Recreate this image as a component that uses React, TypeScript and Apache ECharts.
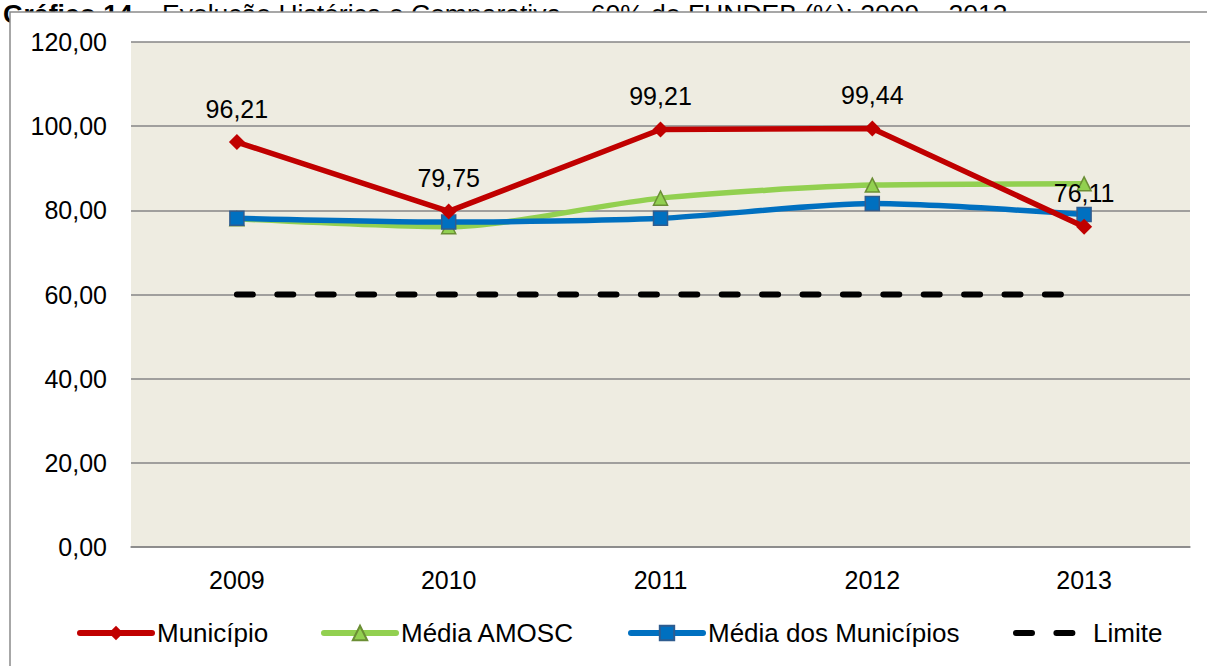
import React, { useEffect, useRef } from "react";
import * as echarts from "echarts";

const categories = ["2009", "2010", "2011", "2012", "2013"];
const municipio = [96.21, 79.75, 99.21, 99.44, 76.11];
const mediaAmosc = [78.0, 76.1, 82.9, 86.0, 86.3];
const mediaMunicipios = [78.1, 77.2, 78.1, 81.6, 79.0];
const limite = [60, 60, 60, 60, 60];
const yMin = 0;
const yMax = 120;
const yInterval = 20;
const titleBold = "Gráfico 14";
const titleRest = " – Evolução Histórica e Comparativa – 60% do FUNDEB (%): 2009 – 2013";
const seriesNames = ["Município", "Média AMOSC", "Média dos Municípios", "Limite"];
const legendLefts = [77, 321, 628, 1013];

const FONT = "'Liberation Sans', Arial, sans-serif";
const fmt = (v: number) => v.toFixed(2).replace(".", ",");

export default function App() {
  const ref = useRef<HTMLDivElement>(null);
  useEffect(() => {
    if (!ref.current) return;
    const chart = echarts.init(ref.current, undefined, { renderer: "svg" });
    const legends = seriesNames.map((name, i) => ({
      left: legendLefts[i],
      top: 620,
      padding: 0,
      itemWidth: 72,
      itemHeight: 18,
      textStyle: { fontSize: 26, fontFamily: FONT, color: "#000" },
      lineStyle: { width: 6, cap: "round" },
      data: [i === 3 ? { name, itemStyle: { opacity: 0 } } : { name }],
    }));
    chart.setOption({
      animation: false,
      backgroundColor: "#ffffff",
      textStyle: { fontFamily: FONT },
      graphic: [
        {
          type: "text",
          z: -20,
          left: 3,
          top: 0,
          style: {
            text: `{b|${titleBold}}${titleRest}`,
            fontFamily: FONT,
            fontSize: 26.5,
            fill: "#000",
            rich: { b: { fontWeight: "bold", fontSize: 26.5, fontFamily: FONT } },
          },
        },
        {
          type: "rect",
          z: -10,
          shape: { x: 10, y: 12, width: 1220, height: 700 },
          style: { fill: "#ffffff", stroke: "#8a8a8a", lineWidth: 1.5 },
        },
      ],
      grid: {
        left: 131,
        right: 17,
        top: 42,
        bottom: 119,
        show: true,
        backgroundColor: "#EEECE1",
        borderWidth: 0,
      },
      legend: legends,
      xAxis: {
        type: "category",
        data: categories,
        boundaryGap: true,
        axisLine: { show: true, lineStyle: { color: "#868686", width: 1.5 } },
        axisTick: { show: false },
        axisLabel: { fontSize: 25, color: "#000", margin: 20, fontFamily: FONT },
      },
      yAxis: {
        type: "value",
        min: yMin,
        max: yMax,
        interval: yInterval,
        axisLine: { show: false },
        axisTick: { show: false },
        splitLine: { lineStyle: { color: "#868686", width: 1.5 } },
        axisLabel: { fontSize: 25, color: "#000", margin: 24, fontFamily: FONT, formatter: (v: number) => fmt(v) },
      },
      series: [
        {
          name: seriesNames[0],
          type: "line",
          data: municipio,
          z: 5,
          symbol: "diamond",
          symbolSize: 16,
          lineStyle: { color: "#C00000", width: 5.5 },
          itemStyle: { color: "#C00000" },
          label: {
            show: true,
            position: "top",
            distance: 13,
            fontSize: 25,
            color: "#000",
            fontFamily: FONT,
            formatter: (p: any) => fmt(p.value),
          },
        },
        {
          name: seriesNames[1],
          type: "line",
          data: mediaAmosc,
          z: 3,
          smooth: 0.25,
          symbol: "triangle",
          symbolSize: 14,
          lineStyle: { color: "#92D050", width: 5.5 },
          itemStyle: { color: "#92D050", borderColor: "#6B8E35", borderWidth: 1.5 },
        },
        {
          name: seriesNames[2],
          type: "line",
          data: mediaMunicipios,
          z: 4,
          smooth: 0.25,
          symbol: "rect",
          symbolSize: 14,
          lineStyle: { color: "#0070C0", width: 5.5 },
          itemStyle: { color: "#0070C0", borderColor: "#2F5C8F", borderWidth: 1.5 },
        },
        {
          name: seriesNames[3],
          type: "line",
          data: limite,
          z: 2,
          symbol: "none",
          lineStyle: { color: "#000000", width: 6, type: [16, 24.4], cap: "round" },
          itemStyle: { color: "#000000" },
        },
      ],
    });
    return () => chart.dispose();
  }, []);
  return (
    <div
      ref={ref}
      style={{ position: "absolute", left: 0, top: 0, width: 1207, height: 666 }}
    />
  );
}
